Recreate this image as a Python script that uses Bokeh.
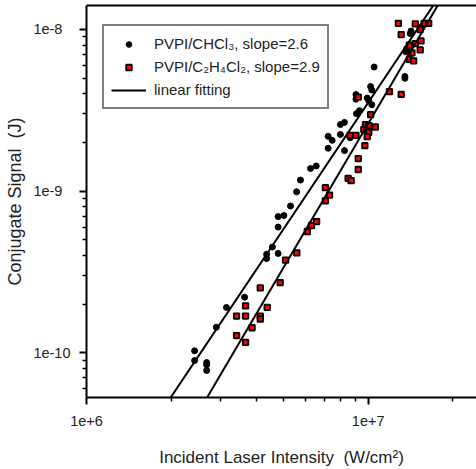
from bokeh.plotting import figure
from bokeh.models import (Range1d, LogAxis, FixedTicker, CustomJSTickFormatter,
                          Legend, LegendItem)
from bokeh.embed import file_html
from bokeh.resources import INLINE

# ---- data ----
chcl3_x = [2.42e6, 2.42e6, 2.67e6, 2.67e6, 2.67e6, 2.89e6, 3.14e6, 3.64e6,
           4.36e6, 4.36e6, 4.57e6, 4.79e6, 4.79e6, 4.79e6, 5.02e6, 5.30e6,
           5.57e6, 5.75e6, 6.24e6, 6.54e6, 7.21e6, 7.21e6, 7.45e6, 7.97e6,
           8.24e6, 7.97e6, 8.24e6, 8.63e6, 9.09e6, 9.31e6, 9.05e6, 9.05e6,
           9.92e6, 1.005e7, 1.03e7, 1.02e7, 1.03e7, 1.05e7, 1.35e7, 1.35e7,
           1.36e7, 1.37e7, 1.41e7, 1.42e7]
chcl3_y = [1.03e-10, 8.97e-11, 8.72e-11, 8.44e-11, 7.79e-11, 1.44e-10, 1.91e-10, 2.21e-10,
           4.07e-10, 3.83e-10, 4.51e-10, 4.12e-10, 5.99e-10, 6.96e-10, 7.06e-10, 8.09e-10,
           9.90e-10, 1.17e-9, 1.38e-9, 1.43e-9, 1.84e-9, 2.18e-9, 2.06e-9, 2.24e-9,
           1.78e-9, 2.58e-9, 2.66e-9, 2.14e-9, 3.01e-9, 3.14e-9, 3.95e-9, 3.70e-9,
           3.76e-9, 3.62e-9, 3.42e-9, 4.43e-9, 4.22e-9, 5.85e-9, 4.98e-9, 5.11e-9,
           7.26e-9, 7.61e-9, 9.41e-9, 9.76e-9]

c2h4cl2_x = [3.41e6, 3.41e6, 3.67e6, 3.67e6, 3.67e6, 3.87e6, 4.14e6, 4.14e6,
             4.14e6, 4.38e6, 4.87e6, 5.09e6, 5.58e6, 6.08e6, 6.29e6, 6.56e6,
             7.05e6, 7.29e6, 7.05e6, 8.49e6, 8.70e6, 9.22e6, 9.22e6, 8.63e6,
             9.05e6, 9.22e6, 1.02e7, 9.78e6, 1.005e7, 1.06e7, 9.65e6, 1.005e7,
             9.92e6, 9.73e6, 1.19e7, 1.31e7, 1.28e7, 1.31e7, 1.47e7, 1.58e7,
             1.64e7, 1.53e7, 1.40e7, 1.47e7, 1.54e7, 1.53e7, 1.43e7, 1.40e7,
             1.45e7]
c2h4cl2_y = [1.69e-10, 1.28e-10, 1.95e-10, 1.69e-10, 1.16e-10, 1.43e-10, 2.52e-10, 1.69e-10,
             1.62e-10, 1.91e-10, 2.72e-10, 3.74e-10, 4.15e-10, 5.63e-10, 6.13e-10, 6.48e-10,
             8.72e-10, 9.45e-10, 1.05e-9, 1.20e-9, 1.16e-9, 1.59e-9, 1.36e-9, 2.21e-9,
             2.21e-9, 3.81e-9, 2.97e-9, 2.58e-9, 2.54e-9, 2.49e-9, 2.40e-9, 2.31e-9,
             2.17e-9, 1.91e-9, 4.12e-9, 3.96e-9, 1.09e-8, 9.28e-9, 1.08e-8, 1.09e-8,
             1.09e-8, 9.96e-9, 7.98e-9, 8.17e-9, 8.48e-9, 7.46e-9, 7.16e-9, 6.52e-9,
             6.39e-9]

# linear fits (end points of the drawn fit lines)
fit1_x = [1.786e6, 1.95e7]
fit1_y = [4.0e-11, 2.0e-8]
fit2_x = [2.437e6, 1.989e7]
fit2_y = [4.0e-11, 2.0e-8]

x_major = [1e6, 1e7]
x_minor = [2e6, 3e6, 4e6, 5e6, 6e6, 7e6, 8e6, 9e6, 2e7]
y_major = [1e-10, 1e-9, 1e-8]
y_minor = [6e-11, 7e-11, 8e-11, 9e-11,
           2e-10, 3e-10, 4e-10, 5e-10, 6e-10, 7e-10, 8e-10, 9e-10,
           2e-9, 3e-9, 4e-9, 5e-9, 6e-9, 7e-9, 8e-9, 9e-9]

series_labels = ["PVPI/CHCl\u2083, slope=2.6",
                 "PVPI/C\u2082H\u2084Cl\u2082, slope=2.9",
                 "linear fitting"]
x_title = "Incident Laser Intensity\u00a0 (W/cm\u00b2)"
y_title = "Conjugate Signal\u00a0 (J)"

FONT = "Liberation Sans"
TXT = "#222222"

p = figure(width=476, height=469, x_axis_type="log", y_axis_type="log",
           x_range=Range1d(1e6, 2.424e7), y_range=Range1d(5.30e-11, 1.404e-8),
           output_backend="svg", toolbar_location=None,
           min_border_left=86, min_border_right=0, min_border_top=5,
           min_border_bottom=69)
p.grid.visible = False
p.outline_line_color = None

r1 = p.scatter(chcl3_x, chcl3_y, marker="circle", size=6,
               fill_color="black", line_color="black")
r2 = p.scatter(c2h4cl2_x, c2h4cl2_y, marker="square", size=5.5,
               fill_color="#ff0000", line_color="black", line_width=1.8)
l1 = p.line(fit1_x, fit1_y, line_color="black", line_width=2)
l2 = p.line(fit2_x, fit2_y, line_color="black", line_width=2)

for ax in (p.xaxis[0], p.yaxis[0]):
    ax.axis_line_width = 2
    ax.major_tick_line_width = 2
    ax.minor_tick_line_width = 1.5
    ax.major_tick_in = 0
    ax.major_tick_out = 7
    ax.minor_tick_in = 0
    ax.minor_tick_out = 4
    ax.major_label_text_font = FONT
    ax.major_label_text_font_size = "14.5px"
    ax.major_label_text_color = TXT
    ax.axis_label_text_font = FONT
    ax.axis_label_text_font_style = "normal"
    ax.axis_label_text_color = TXT

p.xaxis[0].ticker = FixedTicker(ticks=x_major, minor_ticks=x_minor)
p.yaxis[0].ticker = FixedTicker(ticks=y_major, minor_ticks=y_minor)
p.xaxis[0].formatter = CustomJSTickFormatter(code="return tick.toExponential(0);")
p.yaxis[0].formatter = CustomJSTickFormatter(
    code="const s = tick.toExponential(0); return s.length < 5 ? s + '\u2007' : s;")
p.xaxis[0].major_label_standoff = 11
p.yaxis[0].major_label_standoff = 9
p.xaxis[0].axis_label = x_title
p.yaxis[0].axis_label = y_title
p.xaxis[0].axis_label_text_font_size = "17px"
p.yaxis[0].axis_label_text_font_size = "18px"
p.xaxis[0].axis_label_standoff = 19
p.yaxis[0].axis_label_standoff = 5

top_axis = LogAxis(ticker=FixedTicker(ticks=[]), axis_line_width=2,
                   major_tick_in=0, major_tick_out=0,
                   minor_tick_in=0, minor_tick_out=0,
                   major_label_text_font_size="0px")
p.add_layout(top_axis, "above")

legend = Legend(items=[LegendItem(label=series_labels[0], renderers=[r1]),
                       LegendItem(label=series_labels[1], renderers=[r2]),
                       LegendItem(label=series_labels[2], renderers=[l1])],
                location=(16, 288),
                label_text_font=FONT, label_text_font_size="15px",
                label_text_color=TXT,
                glyph_width=35, glyph_height=14, label_height=21,
                label_standoff=8, padding=7, spacing=2, margin=0,
                border_line_color="black", border_line_width=2,
                background_fill_color="white", background_fill_alpha=1.0)
p.add_layout(legend, "center")

open("out.html", "w").write(file_html(p, INLINE))
